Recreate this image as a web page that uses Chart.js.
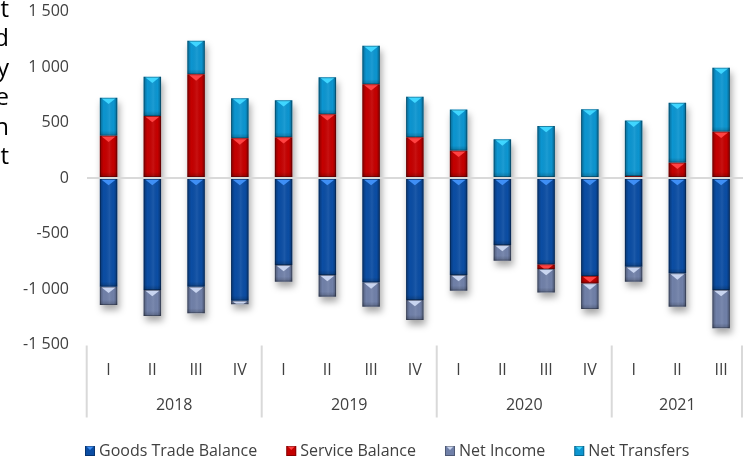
<!DOCTYPE html>
<html>
<head>
<meta charset="utf-8">
<script src="https://cdn.jsdelivr.net/npm/chart.js@4/dist/chart.umd.min.js"></script>
<style>
  html, body { margin: 0; padding: 0; background: #fff; overflow: hidden; }
  #wrap { position: relative; width: 743px; height: 462px; }
  #side { position: absolute; left: -100px; top: -7px; width: 109px; text-align: right;
          font: 24px "Open Sans"; line-height: 29.4px; color: #000; }
  canvas { position: absolute; left: 0; top: 0; }
</style>
</head>
<body>
<div id="wrap">
  <canvas id="bopChart" width="743" height="462"></canvas>
  <div id="side">t<br>d<br>y<br>e<br>n<br>t</div>
</div>
<script>
// quarters and years
const quarters = ['I','II','III','IV','I','II','III','IV','I','II','III','IV','I','II','III'];
const years = ['2018','2019','2020','2021'];
const yearCounts = [4, 4, 4, 3];

// series values
const goodsTrade = [-979,-1009,-979,-1105,-784,-874,-940,-1099,-874,-604,-778,-883,-799,-859,-1009];
const serviceBal = [381,559,934,357,367,574,844,367,246,0,-42,-66,18,138,417];
const netIncome  = [-165,-234,-240,-33,-150,-195,-219,-180,-141,-141,-212,-231,-135,-300,-345];
const netTransf  = [342,354,303,361,333,333,348,366,370,348,468,619,499,540,577];

const FONT = '"Open Sans"';
const TXT = '#404040';

function fmt(v) {
  const s = Math.abs(v).toString().replace(/\B(?=(\d{3})+(?!\d))/g, ' ');
  return (v < 0 ? '-' : '') + s;
}

// drop shadow under each stacked column + bevel shading on the segments
const shadePlugin = {
  id: 'shade',
  beforeDatasetsDraw(chart) {
    const ctx = chart.ctx;
    const metas = chart.getSortedVisibleDatasetMetas();
    ctx.save();
    ctx.shadowColor = 'rgba(0,0,0,0.35)';
    ctx.shadowBlur = 7;
    ctx.shadowOffsetX = 2;
    ctx.shadowOffsetY = 5;
    ctx.fillStyle = '#ffffff';
    quarters.forEach((q, i) => {
      let top = Infinity, bot = -Infinity, x = 0, w = 0;
      metas.forEach(m => {
        const el = m.data[i];
        top = Math.min(top, el.y, el.base);
        bot = Math.max(bot, el.y, el.base);
        x = el.x; w = el.width;
      });
      ctx.fillRect(x - w / 2, top, w, bot - top);
    });
    ctx.restore();
  },
  afterDatasetDraw(chart, args) {
    const ctx = chart.ctx;
    const ds = chart.data.datasets[args.index];
    args.meta.data.forEach(el => {
      const l = el.x - el.width / 2, w = el.width;
      const t = Math.min(el.y, el.base), h = Math.abs(el.base - el.y);
      if (h < 0.5) return;
      ctx.save();
      const g = ctx.createLinearGradient(l, 0, l + w, 0);
      g.addColorStop(0, 'rgba(0,0,0,0.30)');
      g.addColorStop(0.22, 'rgba(0,0,0,0)');
      g.addColorStop(0.55, 'rgba(255,255,255,0.07)');
      g.addColorStop(0.8, 'rgba(0,0,0,0)');
      g.addColorStop(1, 'rgba(0,0,0,0.32)');
      ctx.fillStyle = g;
      ctx.fillRect(l, t, w, h);
      // darker band at the bottom of the segment
      const bh = Math.min(5, h / 2);
      const g2 = ctx.createLinearGradient(0, t + h - bh, 0, t + h);
      g2.addColorStop(0, 'rgba(0,0,0,0)');
      g2.addColorStop(1, 'rgba(0,0,0,0.22)');
      ctx.fillStyle = g2;
      ctx.fillRect(l, t + h - bh, w, bh);
      // bevel triangle on top
      ctx.beginPath();
      ctx.rect(l, t, w, h);
      ctx.clip();
      const d = w * 0.36;
      ctx.fillStyle = ds.bevel;
      ctx.beginPath();
      ctx.moveTo(l + 1.5, t + 0.5);
      ctx.lineTo(l + w - 1.5, t + 0.5);
      ctx.lineTo(l + w / 2, t + d);
      ctx.closePath();
      ctx.fill();
      ctx.strokeStyle = 'rgba(0,0,0,0.28)';
      ctx.lineWidth = 1;
      ctx.strokeRect(l + 0.5, t + 0.5, w - 1, h - 1);
      ctx.restore();
    });
  }
};

// year row and group separators under the quarter labels
const yearPlugin = {
  id: 'years',
  afterDraw(chart) {
    const { ctx, chartArea } = chart;
    const x = chart.scales.x;
    const step = x.getPixelForValue(1) - x.getPixelForValue(0);
    ctx.save();
    ctx.strokeStyle = '#d9d9d9';
    ctx.lineWidth = 2;
    ctx.font = '16px ' + FONT;
    ctx.fillStyle = TXT;
    ctx.textAlign = 'center';
    ctx.textBaseline = 'middle';
    const sep = px => {
      ctx.beginPath();
      ctx.moveTo(px, chartArea.bottom + 1);
      ctx.lineTo(px, chartArea.bottom + 73);
      ctx.stroke();
    };
    let i = 0;
    years.forEach((yr, k) => {
      const left = x.getPixelForValue(i) - step / 2;
      const right = x.getPixelForValue(i + yearCounts[k] - 1) + step / 2;
      sep(left);
      ctx.fillText(yr, (left + right) / 2, chartArea.bottom + 60.5);
      i += yearCounts[k];
      if (k === years.length - 1) sep(right - 1);
    });
    ctx.restore();
  }
};

// legend row at the bottom
const legendPlugin = {
  id: 'legendRow',
  afterDraw(chart) {
    const ctx = chart.ctx;
    ctx.save();
    ctx.font = '16px ' + FONT;
    ctx.textBaseline = 'middle';
    ctx.textAlign = 'left';
    let x = 85;
    const y = 451;
    chart.data.datasets.forEach(ds => {
      ctx.fillStyle = ds.backgroundColor;
      ctx.fillRect(x, y - 5, 10, 10);
      ctx.fillStyle = ds.bevel;
      ctx.beginPath();
      ctx.moveTo(x + 1, y - 5);
      ctx.lineTo(x + 9, y - 5);
      ctx.lineTo(x + 5, y - 1);
      ctx.closePath();
      ctx.fill();
      ctx.strokeStyle = 'rgba(0,0,0,0.3)';
      ctx.lineWidth = 1;
      ctx.strokeRect(x + 0.5, y - 4.5, 9, 9);
      x += 14;
      ctx.fillStyle = TXT;
      ctx.fillText(ds.label, x, y);
      x += ctx.measureText(ds.label).width + 29;
    });
    ctx.restore();
  }
};

function draw() {
  new Chart(document.getElementById('bopChart'), {
    type: 'bar',
    data: {
      labels: quarters,
      datasets: [
        { label: 'Goods Trade Balance', data: goodsTrade, backgroundColor: '#0b4da3', bevel: '#3f8ff5' },
        { label: 'Service Balance', data: serviceBal, backgroundColor: '#c40000', bevel: '#ff4242' },
        { label: 'Net Income', data: netIncome, backgroundColor: '#7080a8', bevel: '#c9d5f0' },
        { label: 'Net Transfers', data: netTransf, backgroundColor: '#0c95d0', bevel: '#3fd6ff' }
      ]
    },
    options: {
      responsive: false,
      animation: false,
      categoryPercentage: 0.8,
      barPercentage: 0.5,
      layout: { padding: 0 },
      plugins: {
        legend: { display: false },
        tooltip: { enabled: false }
      },
      scales: {
        x: {
          stacked: true,
          grid: { display: false },
          border: { display: false },
          ticks: {
            color: TXT,
            font: { family: FONT, size: 16 },
            padding: 8,
            maxRotation: 0,
            autoSkip: false
          },
          afterFit: s => { s.height = 117.5; }
        },
        y: {
          stacked: true,
          min: -1500,
          max: 1500,
          border: { display: false },
          grid: {
            z: 1,
            drawTicks: false,
            lineWidth: 2,
            color: c => (c.tick && c.tick.value === 0) ? '#d9d9d9' : 'rgba(0,0,0,0)'
          },
          ticks: {
            stepSize: 500,
            color: TXT,
            font: { family: FONT, size: 16 },
            padding: 17.7,
            callback: v => fmt(v)
          },
          afterFit: s => {
            s.width = 86.7;
            s.paddingTop = 11.5;
            s.paddingBottom = 0;
          }
        }
      }
    },
    plugins: [shadePlugin, yearPlugin, legendPlugin]
  });
}

if (document.fonts && document.fonts.load) {
  document.fonts.load('16px ' + FONT).then(draw, draw);
} else {
  draw();
}
</script>
</body>
</html>
